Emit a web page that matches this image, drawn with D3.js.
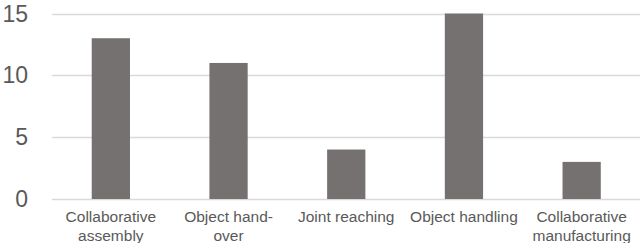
<!DOCTYPE html>
<html>
<head>
<meta charset="utf-8">
<script src="https://cdn.jsdelivr.net/npm/d3@7"></script>
<style>
  body { margin: 0; background: #fff; }
  text { font-family: "Liberation Sans", Arial, sans-serif; fill: #595959; }
</style>
</head>
<body>
<script>
const width = 640;
const height = 243;

// data
const categories = ['Collaborative assembly', 'Object hand-over', 'Joint reaching', 'Object handling', 'Collaborative manufacturing'];
const labelLines = [['Collaborative', 'assembly'], ['Object hand-', 'over'], ['Joint reaching'], ['Object handling'], ['Collaborative', 'manufacturing']];
const counts = [13, 11, 4, 15, 3];
const yTicks = [0, 5, 10, 15];

const plot = { left: 52, right: 640.5, top: 13.5, bottom: 199 };

const svg = d3.select('body')
  .append('svg')
  .attr('width', width)
  .attr('height', height);

const x = d3.scaleBand()
  .domain(categories)
  .range([plot.left, plot.right])
  .paddingInner(0.675)
  .paddingOuter(0.3375);

const y = d3.scaleLinear()
  .domain([0, 15])
  .range([plot.bottom, plot.top]);

// gridlines
svg.append('g')
  .selectAll('line')
  .data(yTicks)
  .enter()
  .append('line')
  .attr('x1', plot.left)
  .attr('x2', plot.right)
  .attr('y1', d => Math.round(y(d)) + 0.5)
  .attr('y2', d => Math.round(y(d)) + 0.5)
  .attr('stroke', '#d9d9d9')
  .attr('stroke-width', 1.5);

// y tick labels
svg.append('g')
  .selectAll('text')
  .data(yTicks)
  .enter()
  .append('text')
  .attr('x', 28)
  .attr('y', d => y(d))
  .attr('dy', '0.35em')
  .attr('text-anchor', 'end')
  .attr('font-size', 23)
  .text(d => d);

// bars
svg.append('g')
  .selectAll('rect')
  .data(counts)
  .enter()
  .append('rect')
  .attr('x', (d, i) => x(categories[i]))
  .attr('y', d => y(d))
  .attr('width', x.bandwidth())
  .attr('height', d => y(0) - y(d))
  .attr('fill', '#767171');

// category labels, wrapped like the original
const labels = svg.append('g')
  .selectAll('text')
  .data(categories)
  .enter()
  .append('text')
  .attr('text-anchor', 'middle')
  .attr('font-size', 15.5);

labels.each(function(d, i) {
  const cx = x(d) + x.bandwidth() / 2;
  labelLines[i].forEach((line, k) => {
    d3.select(this).append('tspan')
      .attr('x', cx)
      .attr('y', 222 + k * 18.5)
      .text(line);
  });
});
</script>
</body>
</html>
